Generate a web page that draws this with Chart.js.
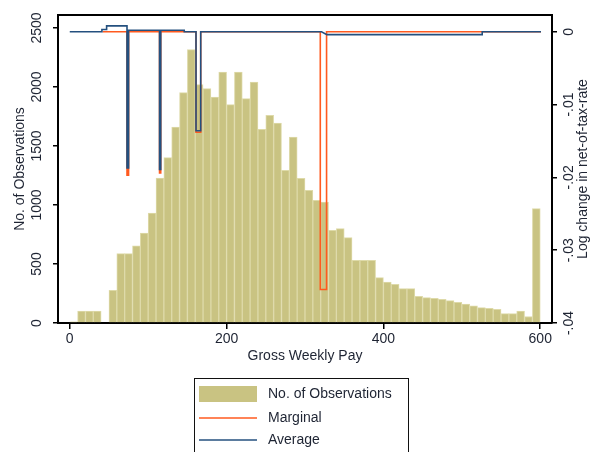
<!DOCTYPE html>
<html>
<head>
<meta charset="utf-8">
<script src="https://cdn.jsdelivr.net/npm/chart.js@4.4.1/dist/chart.umd.min.js"></script>
<style>
  html, body { margin: 0; padding: 0; background: #fff; }
  #wrap { width: 600px; height: 452px; }
</style>
</head>
<body>
<div id="wrap"><canvas id="chart" width="600" height="452"></canvas></div>
<script>
// Histogram of gross weekly pay, bins of 10 starting at 0
const binStart = 0;
const binWidth = 10;
const counts = [
    10, 100, 100, 100, 0, 277, 588, 588, 653, 763,
    932, 1229, 1401, 1661, 1952, 2317, 2020, 1986, 1915, 2127,
    1850, 2127, 1901, 2042, 1641, 1760, 1695, 1294, 1576, 1225,
    1124, 1040, 1025, 785, 800, 723, 531, 531, 531, 384,
    347, 327, 291, 291, 226, 215, 210, 200, 190, 175,
    160, 145, 130, 125, 115, 80, 80, 100, 55, 969
];

// Log change in net-of-tax rate (right axis)
const marginalX = [42, 73, 73, 75, 75, 114.5, 114.5, 116, 116, 161, 161, 167, 167, 319.5, 319.5, 327.5, 327.5, 601];
const marginalY = [0, 0, -0.0197, -0.0197, 0, 0, -0.0194, -0.0194, 0, 0, -0.0138, -0.0138, 0, 0, -0.0354, -0.0354, 0, 0];

const averageX = [0, 41, 41, 47, 47, 73, 73, 75, 75, 114.5, 114.5, 116, 116, 146, 146, 161, 161, 167, 167, 321, 328, 526, 526, 601];
const averageY = [0, 0, 0.0003, 0.0003, 0.0008, 0.0008, -0.0187, -0.0187, 0.0002, 0.0002, -0.0189, -0.0189, 0.0002, 0.0002, 0, 0, -0.0136, -0.0136, 0, 0, -0.0004, -0.0004, 0, 0];

const xTicks = [0, 200, 400, 600];
const leftTicks = [0, 500, 1000, 1500, 2000, 2500];
const rightTicks = [-0.04, -0.03, -0.02, -0.01, 0];
const rightTickLabels = ['-.04', '-.03', '-.02', '-.01', '0'];

const barColor = '#c9c382';
const barEdge = '#dedaa9';
const marginalColor = '#ff5a1f';
const averageColor = '#24507f';
const textColor = '#1e2433';
const fontFamily = '"Liberation Sans", Arial, sans-serif';

function toPoints(xs, ys) {
    return xs.map((x, i) => ({ x: x, y: ys[i] }));
}

const histData = counts.map((c, i) => ({ x: binStart + binWidth * i + binWidth / 2, y: c }));

// Top border, right axis title and the boxed legend
const extrasPlugin = {
    id: 'extras',
    afterDraw(chart) {
        const { ctx, chartArea } = chart;
        ctx.save();
        ctx.strokeStyle = '#000';
        ctx.lineWidth = 2;
        ctx.beginPath();
        ctx.moveTo(chartArea.left - 1, chartArea.top);
        ctx.lineTo(chartArea.right + 1, chartArea.top);
        ctx.stroke();

        // right axis title reads bottom to top
        const y1 = chart.scales.y1;
        ctx.save();
        ctx.translate(y1.right - 17, (chartArea.top + chartArea.bottom) / 2);
        ctx.rotate(-Math.PI / 2);
        ctx.fillStyle = textColor;
        ctx.font = '14px ' + fontFamily;
        ctx.textAlign = 'center';
        ctx.textBaseline = 'middle';
        ctx.fillText('Log change in net-of-tax-rate', 0, 0);
        ctx.restore();

        // legend
        const boxX = 194, boxY = 378, boxW = 214;
        ctx.strokeStyle = '#111';
        ctx.lineWidth = 1;
        ctx.strokeRect(boxX + 0.5, boxY + 0.5, boxW, 100);
        ctx.font = '14px ' + fontFamily;
        ctx.textAlign = 'left';
        ctx.textBaseline = 'middle';
        const rows = [394, 418, 440];
        chart.data.datasets.forEach((ds, i) => {
            const yy = rows[i];
            if (ds.type === 'bar') {
                ctx.fillStyle = ds.backgroundColor;
                ctx.fillRect(199, yy - 8, 58, 16);
            } else {
                ctx.strokeStyle = ds.borderColor;
                ctx.lineWidth = 1.6;
                ctx.beginPath();
                ctx.moveTo(199, yy);
                ctx.lineTo(257, yy);
                ctx.stroke();
            }
            ctx.fillStyle = textColor;
            ctx.fillText(ds.label, 268, yy);
        });
        ctx.restore();
    }
};

const ctx = document.getElementById('chart').getContext('2d');
new Chart(ctx, {
    type: 'bar',
    data: {
        datasets: [{
            type: 'bar',
            label: 'No. of Observations',
            data: histData,
            yAxisID: 'y',
            backgroundColor: barColor,
            borderColor: barEdge,
            borderWidth: 1,
            barPercentage: 1,
            categoryPercentage: 1,
            order: 3
        }, {
            type: 'line',
            label: 'Marginal',
            data: toPoints(marginalX, marginalY),
            yAxisID: 'y1',
            borderColor: marginalColor,
            borderWidth: 1.6,
            pointRadius: 0,
            tension: 0,
            fill: false,
            order: 2
        }, {
            type: 'line',
            label: 'Average',
            data: toPoints(averageX, averageY),
            yAxisID: 'y1',
            borderColor: averageColor,
            borderWidth: 1.6,
            pointRadius: 0,
            tension: 0,
            fill: false,
            order: 1
        }]
    },
    options: {
        responsive: false,
        animation: false,
        layout: { padding: { top: 15, bottom: 79, left: 0, right: 0 } },
        plugins: {
            legend: { display: false },
            tooltip: { enabled: false }
        },
        scales: {
            x: {
                type: 'linear',
                min: -15,
                max: 615,
                offset: false,
                afterBuildTicks: scale => { scale.ticks = xTicks.map(v => ({ value: v })); },
                afterFit: scale => { scale.height = 50; },
                grid: { display: true, offset: false, drawOnChartArea: false, drawTicks: true, tickLength: 6, color: '#000', lineWidth: 1.5 },
                border: { display: true, color: '#000', width: 2 },
                ticks: { color: textColor, font: { family: fontFamily, size: 14 }, padding: 2, maxRotation: 0 },
                title: { display: true, text: 'Gross Weekly Pay', color: textColor, font: { family: fontFamily, size: 14 }, padding: { top: 0, bottom: 8 } }
            },
            y: {
                type: 'linear',
                position: 'left',
                min: 0,
                max: 2610,
                afterBuildTicks: scale => { scale.ticks = leftTicks.map(v => ({ value: v })); },
                afterFit: scale => { scale.width = 58; },
                grid: { display: true, drawOnChartArea: false, drawTicks: true, tickLength: 5, color: '#000', lineWidth: 1.5 },
                border: { display: true, color: '#000', width: 2 },
                ticks: {
                    color: textColor,
                    font: { family: fontFamily, size: 14 },
                    padding: 0,
                    minRotation: 90,
                    maxRotation: 90,
                    crossAlign: 'center',
                    callback: v => String(v)
                },
                title: { display: true, text: 'No. of Observations', color: textColor, font: { family: fontFamily, size: 14 }, padding: { top: 12, bottom: 0 } }
            },
            y1: {
                type: 'linear',
                position: 'right',
                min: -0.04,
                max: 0.0023,
                afterBuildTicks: scale => { scale.ticks = rightTicks.map(v => ({ value: v })); },
                afterFit: scale => { scale.width = 48; },
                grid: { display: true, drawOnChartArea: false, drawTicks: true, tickLength: 5, color: '#000', lineWidth: 1.5 },
                border: { display: true, color: '#000', width: 2 },
                ticks: {
                    color: textColor,
                    font: { family: fontFamily, size: 14 },
                    padding: 0,
                    minRotation: 90,
                    maxRotation: 90,
                    crossAlign: 'center',
                    callback: (v, i) => rightTickLabels[i]
                }
            }
        }
    },
    plugins: [extrasPlugin]
});
</script>
</body>
</html>
